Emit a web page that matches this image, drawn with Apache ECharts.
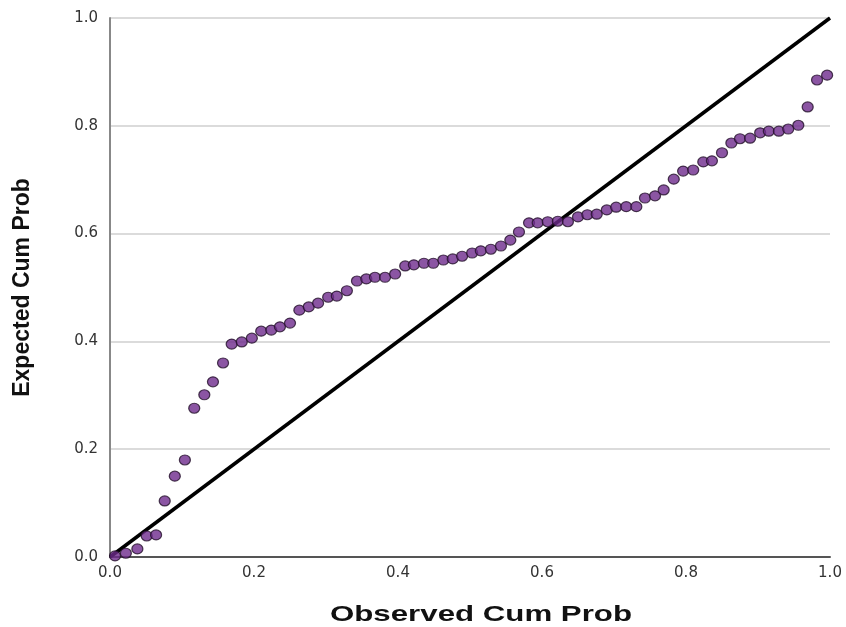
<!DOCTYPE html>
<html>
<head>
<meta charset="utf-8">
<script src="https://cdn.jsdelivr.net/npm/echarts@6/dist/echarts.min.js"></script>
<style>
  html, body { margin: 0; padding: 0; background: #fff; }
  #chart { width: 846px; height: 627px; }
</style>
</head>
<body>
<div id="chart"></div>
<script>
// observed vs expected cumulative probability
var observed = [
  0.007, 0.022, 0.038, 0.051, 0.064, 0.076, 0.090, 0.104, 0.117, 0.131,
  0.143, 0.157, 0.169, 0.183, 0.197, 0.210, 0.224, 0.236, 0.250, 0.263,
  0.276, 0.289, 0.303, 0.315, 0.329, 0.343, 0.356, 0.368, 0.382, 0.396,
  0.410, 0.422, 0.436, 0.449, 0.463, 0.476, 0.489, 0.503, 0.515, 0.529,
  0.543, 0.556, 0.568, 0.582, 0.594, 0.608, 0.622, 0.636, 0.650, 0.663,
  0.676, 0.690, 0.703, 0.717, 0.731, 0.743, 0.757, 0.769, 0.783, 0.796,
  0.810, 0.824, 0.836, 0.850, 0.863, 0.875, 0.889, 0.903, 0.915, 0.929,
  0.942, 0.956, 0.969, 0.982, 0.996
];
var expected = [
  0.002, 0.007, 0.015, 0.039, 0.041, 0.104, 0.150, 0.180, 0.276, 0.301,
  0.325, 0.360, 0.395, 0.399, 0.406, 0.419, 0.421, 0.427, 0.434, 0.458,
  0.464, 0.471, 0.482, 0.484, 0.494, 0.512, 0.516, 0.519, 0.519, 0.525,
  0.540, 0.542, 0.545, 0.545, 0.551, 0.553, 0.558, 0.564, 0.568, 0.571,
  0.577, 0.588, 0.603, 0.620, 0.620, 0.622, 0.623, 0.622, 0.631, 0.635,
  0.636, 0.644, 0.649, 0.650, 0.650, 0.666, 0.670, 0.681, 0.701, 0.716,
  0.718, 0.733, 0.735, 0.750, 0.768, 0.776, 0.777, 0.787, 0.790, 0.790,
  0.794, 0.801, 0.835, 0.885, 0.894
];
var refLine = [[0, 0], [1, 1]];

var points = [];
for (var i = 0; i < observed.length; i++) {
  points.push([observed[i], expected[i]]);
}

var myChart = echarts.init(document.getElementById('chart'));

var tickLabel = {
  color: '#333',
  fontFamily: 'DejaVu Sans',
  fontSize: 15,
  formatter: function (v) { return v.toFixed(1); }
};

var option = {
  backgroundColor: '#fff',
  animation: false,
  grid: { left: 110, top: 18, width: 720, height: 539, outerBoundsMode: 'none' },
  xAxis: {
    type: 'value',
    min: 0, max: 1, interval: 0.2,
    axisLine: { lineStyle: { color: '#555', width: 2 } },
    axisTick: { show: false },
    splitLine: { show: false },
    axisLabel: Object.assign({ margin: 9 }, tickLabel)
  },
  yAxis: {
    type: 'value',
    min: 0, max: 1, interval: 0.2,
    name: 'Expected Cum Prob',
    nameLocation: 'middle',
    nameRotate: 90,
    nameGap: 76,
    nameTextStyle: {
      color: '#111',
      fontFamily: 'Liberation Sans',
      fontWeight: 'bold',
      fontSize: 23
    },
    axisLine: { show: true, lineStyle: { color: '#888', width: 2 } },
    axisTick: { show: false },
    splitLine: { lineStyle: { color: '#cfcfcf', width: 1.5 } },
    axisLabel: Object.assign({ margin: 12 }, tickLabel)
  },
  graphic: [{
    type: 'text',
    x: 481,
    y: 615,
    scaleX: 1.42,
    style: {
      text: 'Observed Cum Prob',
      font: 'bold 22px "Liberation Sans"',
      fill: '#111',
      align: 'center',
      verticalAlign: 'middle'
    }
  }],
  series: [{
    type: 'line',
    data: refLine,
    symbol: 'none',
    lineStyle: { color: '#000', width: 3.5 },
    z: 2
  }, {
    type: 'scatter',
    data: points,
    symbol: 'circle',
    symbolSize: [11, 10],
    itemStyle: {
      color: '#6e2b8c',
      borderColor: '#24122a',
      borderWidth: 1.2
    },
    z: 3
  }]
};

myChart.setOption(option);
</script>
</body>
</html>
